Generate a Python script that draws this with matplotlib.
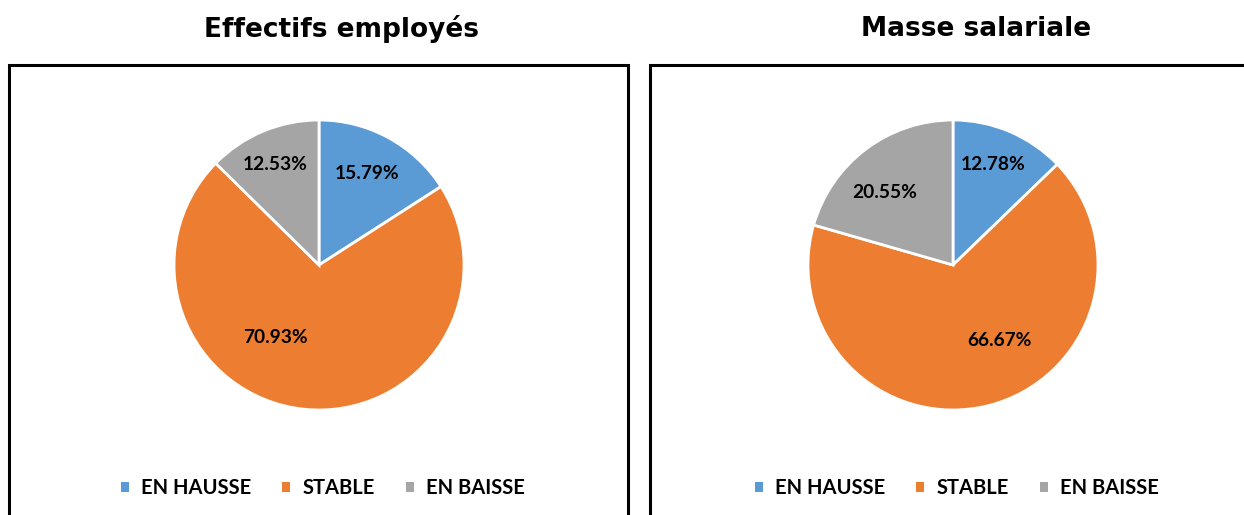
import matplotlib
matplotlib.use("Agg")
from matplotlib import pyplot as plt
from matplotlib.patches import Rectangle

categories = ["EN HAUSSE", "STABLE", "EN BAISSE"]
colors = ["#5B9BD5", "#ED7D31", "#A5A5A5"]

titles = ["Effectifs employés", "Masse salariale"]
effectifs = [15.79, 70.93, 12.53]
masse = [12.78, 66.67, 20.55]

# label positions inside the pie (pie radius = 1)
label_pos = [
    [(0.33, 0.63), (-0.30, -0.50), (-0.30, 0.69)],
    [(0.28, 0.69), (0.32, -0.52), (-0.47, 0.50)],
]

W, H = 1244, 515
fig = plt.figure(figsize=(W / 100, H / 100), dpi=100)

lab_font = "Lato"


def draw_panel(values, title, pos, cx, box):
    # frame around the panel
    bx0, bx1 = box
    fig.patches.append(Rectangle((bx0 / W, -0.1), (bx1 - bx0) / W, (H - 65) / H + 0.1,
                                 transform=fig.transFigure, fill=False,
                                 edgecolor="black", linewidth=2.2))
    fig.text((cx + 23) / W, 1 - 29 / H, title, ha="center", va="center",
             fontsize=19, fontweight="heavy", family="DejaVu Sans")

    r = 145
    ax = fig.add_axes([(cx - r) / W, (H - 265 - r) / H, 2 * r / W, 2 * r / H])
    wedges, _, autotexts = ax.pie(values, colors=colors, startangle=90,
                                  counterclock=False, autopct="%.2f%%",
                                  wedgeprops=dict(edgecolor="white", linewidth=2))
    for t, v, (x, y) in zip(autotexts, values, pos):
        t.set_text(f"{v:.2f}%")
        t.set_position((x, y))
        t.set_fontsize(13.8)
        t.set_family(lab_font)
        t.set_fontweight("bold")
        t.set_color("black")
    ax.set_xlim(-1, 1)
    ax.set_ylim(-1, 1)
    ax.set_aspect("equal")
    ax.axis("off")

    leg = fig.legend(wedges, categories, loc="center",
                     bbox_to_anchor=((cx + 4) / W, 1 - 488 / H), ncol=3,
                     frameon=False, handlelength=0.4, handleheight=0.4,
                     handletextpad=0.6, columnspacing=1.55,
                     prop=dict(family=lab_font, size=14.5, weight="bold"))
    for h in leg.legend_handles:
        h.set_edgecolor("none")


draw_panel(effectifs, titles[0], label_pos[0], 319, (9, 628))
draw_panel(masse, titles[1], label_pos[1], 953, (650, 1260))

fig.savefig("out.png", dpi=100)
